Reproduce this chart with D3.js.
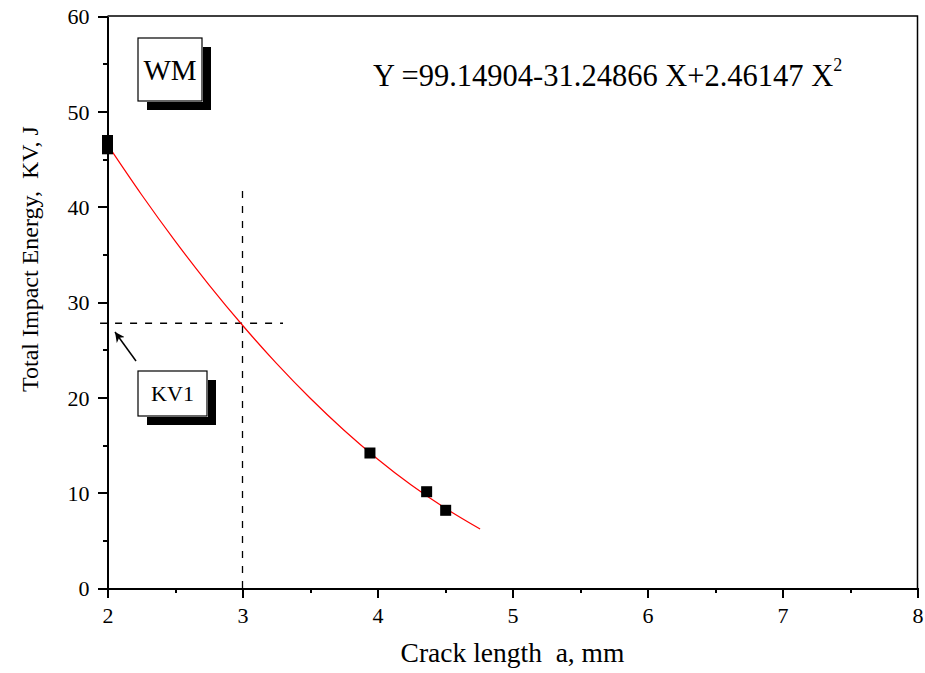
<!DOCTYPE html>
<html lang="en">
<head>
<meta charset="utf-8">
<script src="https://d3js.org/d3.v7.min.js"></script>
<style>
  html, body { margin: 0; padding: 0; background: #fff; }
  svg { display: block; font-family: "Liberation Serif", "Times New Roman", serif; }
  .axis path, .axis line { stroke: #000; stroke-width: 2; shape-rendering: crispEdges; }
  .axis text { font-size: 22px; fill: #000; font-family: "Liberation Serif", serif; }
</style>
</head>
<body>
<script>
// measured points
var crackLen = [2, 2, 3.944, 4.364, 4.505];
var energy   = [46.94, 46.07, 14.16, 10.1, 8.15];

// fitted curve
var fitX = [2, 2.25, 2.5, 2.75, 3, 3.25, 3.5, 3.75, 4, 4.25, 4.5, 4.76];
var fitY = [46.5, 41.3, 36.41, 31.83, 27.56, 23.59, 19.93, 16.58, 13.54, 10.8, 8.39, 6.18];

var xTicks = [2, 3, 4, 5, 6, 7, 8];
var xMinor = [2.5, 3.5, 4.5, 5.5, 6.5, 7.5];
var yTicks = [0, 10, 20, 30, 40, 50, 60];
var yMinor = [5, 15, 25, 35, 45, 55];

// KV1 guide lines
var kvX = 3, kvTop = 42.06;
var kvY = 27.77, kvLeft = 1.945, kvRight = 3.3;

var width = 925, height = 673;
var margin = {top: 16, right: 7.5, bottom: 85, left: 107.5};

var svg = d3.select("body").append("svg")
    .attr("width", width)
    .attr("height", height);

var x = d3.scaleLinear().domain([2, 8]).range([margin.left, width - margin.right]);
var y = d3.scaleLinear().domain([0, 60]).range([height - margin.bottom, margin.top]);

// frame top and right
svg.append("path")
    .attr("d", "M" + x(2) + "," + y(60) + "H" + x(8) + "V" + y(0))
    .attr("fill", "none")
    .attr("stroke", "#000")
    .attr("stroke-width", 1.5);

// minor ticks
svg.append("g").attr("class", "axis")
    .attr("transform", "translate(0," + y(0) + ")")
    .call(d3.axisBottom(x).tickValues(xMinor).tickSize(5).tickFormat("").tickSizeOuter(0));
svg.append("g").attr("class", "axis")
    .attr("transform", "translate(" + x(2) + ",0)")
    .call(d3.axisLeft(y).tickValues(yMinor).tickSize(5).tickFormat("").tickSizeOuter(0));

// major ticks
var xAxis = svg.append("g").attr("class", "axis")
    .attr("transform", "translate(0," + y(0) + ")")
    .call(d3.axisBottom(x).tickValues(xTicks).tickSize(10).tickPadding(9)
        .tickFormat(d3.format("d")).tickSizeOuter(0));
var yAxis = svg.append("g").attr("class", "axis")
    .attr("transform", "translate(" + x(2) + ",0)")
    .call(d3.axisLeft(y).tickValues(yTicks).tickSize(10).tickPadding(8).tickSizeOuter(0));
yAxis.selectAll("text").attr("dy", "0.36em");

// axis titles
svg.append("text")
    .attr("x", (x(2) + x(8)) / 2)
    .attr("y", 662)
    .attr("text-anchor", "middle")
    .attr("font-size", 27.5)
    .attr("xml:space", "preserve")
    .text("Crack length  a, mm");

svg.append("text")
    .attr("transform", "translate(38,392) rotate(-90)")
    .attr("font-size", 24)
    .attr("xml:space", "preserve")
    .text("Total Impact Energy,  KV, J");

// dashed guides
svg.append("line")
    .attr("x1", x(kvX)).attr("x2", x(kvX))
    .attr("y1", y(0)).attr("y2", y(kvTop))
    .attr("stroke", "#000").attr("stroke-width", 1.3)
    .attr("stroke-dasharray", "7,8");
svg.append("line")
    .attr("x1", x(kvLeft)).attr("x2", x(kvRight))
    .attr("y1", y(kvY)).attr("y2", y(kvY))
    .attr("stroke", "#000").attr("stroke-width", 1.3)
    .attr("stroke-dasharray", "7,8");

// fit curve
var line = d3.line()
    .x(function(d) { return x(d[0]); })
    .y(function(d) { return y(d[1]); })
    .curve(d3.curveMonotoneX);
svg.append("path")
    .datum(d3.zip(fitX, fitY))
    .attr("d", line)
    .attr("fill", "none")
    .attr("stroke", "#ff0000")
    .attr("stroke-width", 1.2);

// data squares
svg.selectAll(".pt")
    .data(d3.zip(crackLen, energy))
    .enter().append("rect")
    .attr("class", "pt")
    .attr("x", function(d) { return x(d[0]) - 5.5; })
    .attr("y", function(d) { return y(d[1]) - 5.5; })
    .attr("width", 11)
    .attr("height", 11)
    .attr("fill", "#000");

// arrow to KV1 level
svg.append("defs").append("marker")
    .attr("id", "head")
    .attr("viewBox", "0 0 10 10")
    .attr("refX", 10).attr("refY", 5)
    .attr("markerWidth", 10).attr("markerHeight", 10)
    .attr("markerUnits", "userSpaceOnUse")
    .attr("orient", "auto")
    .append("path")
    .attr("d", "M0,0L10,5L0,10L3,5Z")
    .attr("fill", "#000");
svg.append("line")
    .attr("x1", 136).attr("y1", 361)
    .attr("x2", 115).attr("y2", 332)
    .attr("stroke", "#000").attr("stroke-width", 1.5)
    .attr("marker-end", "url(#head)");

// shadowed label boxes
function label(bx, by, bw, bh, txt, fs) {
  var g = svg.append("g");
  g.append("rect").attr("x", bx + 9).attr("y", by + 9).attr("width", bw).attr("height", bh).attr("fill", "#000");
  g.append("rect").attr("x", bx - 1).attr("y", by - 1).attr("width", bw + 2).attr("height", bh + 2).attr("fill", "#fff");
  g.append("rect").attr("x", bx).attr("y", by).attr("width", bw).attr("height", bh)
      .attr("fill", "#fff").attr("stroke", "#000").attr("stroke-width", 1.2);
  g.append("text").attr("x", bx + bw / 2).attr("y", by + bh / 2)
      .attr("dy", "0.35em").attr("text-anchor", "middle")
      .attr("font-size", fs).text(txt);
}
label(138, 38, 64, 63, "WM", 29);
label(138, 371, 69, 45, "KV1", 22);

// regression equation
var eq = svg.append("text")
    .attr("x", 373).attr("y", 86)
    .attr("font-size", 30.5);
eq.append("tspan").text("Y =99.14904-31.24866 X+2.46147 X");
eq.append("tspan").attr("font-size", 18).attr("dy", -15).text("2");
</script>
</body>
</html>
